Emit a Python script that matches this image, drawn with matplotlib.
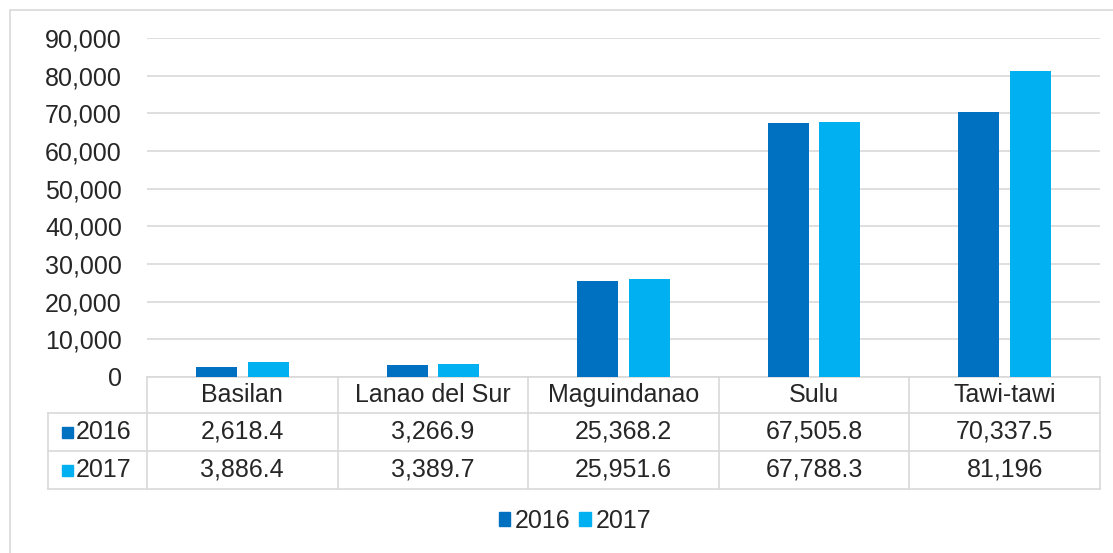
import matplotlib
matplotlib.use("Agg")
from matplotlib import pyplot as plt
from matplotlib.patches import Rectangle
from matplotlib.ticker import FuncFormatter

# data
provinces = ["Basilan", "Lanao del Sur", "Maguindanao", "Sulu", "Tawi-tawi"]
years = ["2016", "2017"]
values_2016 = [2618.4, 3266.9, 25368.2, 67505.8, 70337.5]
values_2017 = [3886.4, 3389.7, 25951.6, 67788.3, 81196]
labels_2016 = ["2,618.4", "3,266.9", "25,368.2", "67,505.8", "70,337.5"]
labels_2017 = ["3,886.4", "3,389.7", "25,951.6", "67,788.3", "81,196"]
yticks = [0, 10000, 20000, 30000, 40000, 50000, 60000, 70000, 80000, 90000]

colors = ["#0070C0", "#00B0F0"]
grid_col = "#d9d9d9"
text_col = "#262626"
fs = 18

plt.rcParams['font.family'] = ['Liberation Sans', 'DejaVu Sans']

W, H = 1113, 553
fig = plt.figure(figsize=(W / 100, H / 100), dpi=100)

# light outer frame
fig.patches.append(Rectangle((10 / W, -0.1), 1.2, 1 - 10 / H + 0.1,
                             transform=fig.transFigure, fill=False,
                             edgecolor="#d9d9d9", linewidth=1.2))

left_px, right_px, top_px, base_px = 147, 1100, 38, 377
ax = fig.add_axes([left_px / W, 1 - base_px / H,
                   (right_px - left_px) / W, (base_px - top_px) / H])

x = list(range(len(provinces)))
bw = 0.215
off = 0.135
ax.bar([i - off for i in x], values_2016, width=bw, color=colors[0], zorder=3)
ax.bar([i + off for i in x], values_2017, width=bw, color=colors[1], zorder=3)

ax.set_xlim(-0.5, len(provinces) - 0.5)
ax.set_ylim(0, 90000)
ax.set_yticks(yticks)
ax.yaxis.set_major_formatter(FuncFormatter(lambda v, p: f"{int(v):,}"))
ax.tick_params(axis="y", length=0, pad=18, labelsize=fs, labelcolor=text_col)
ax.set_xticks([])
ax.grid(axis="y", color=grid_col, linewidth=1.2, zorder=0)
for s in ["top", "right", "left"]:
    ax.spines[s].set_visible(False)
ax.spines["bottom"].set_color(grid_col)
ax.spines["bottom"].set_linewidth(1.2)

# data table underneath the axes
tr = ax.get_xaxis_transform()
axh = base_px - top_px
unit = (right_px - left_px) / len(provinces)
row_px = [377, 413, 451, 489]
row_y = [-(r - base_px) / axh for r in row_px]
x_left = -0.5 - (left_px - 48) / unit

line_kw = dict(transform=tr, color=grid_col, linewidth=1.2, clip_on=False)
for r in row_y[1:]:
    ax.plot([x_left, len(provinces) - 0.5], [r, r], **line_kw)
for xb in [i - 0.5 for i in range(len(provinces) + 1)]:
    ax.plot([xb, xb], [row_y[0], row_y[-1]], **line_kw)
ax.plot([x_left, x_left], [row_y[1], row_y[-1]], **line_kw)

def mid(a, b):
    return (a + b) / 2

for i, name in enumerate(provinces):
    ax.text(i, mid(row_y[0], row_y[1]), name, transform=tr, ha="center",
            va="center", fontsize=fs, color=text_col, clip_on=False)
    ax.text(i, mid(row_y[1], row_y[2]), labels_2016[i], transform=tr,
            ha="center", va="center", fontsize=fs, color=text_col)
    ax.text(i, mid(row_y[2], row_y[3]), labels_2017[i], transform=tr,
            ha="center", va="center", fontsize=fs, color=text_col)

sq = 11
for k, yr in enumerate(years):
    yc = mid(row_y[k + 1], row_y[k + 2])
    ax.add_patch(Rectangle((x_left + 14 / unit, yc - sq / 2 / axh),
                           sq / unit, sq / axh, transform=tr,
                           color=colors[k], clip_on=False))
    ax.text(x_left + 28 / unit, yc, yr, transform=tr, ha="left", va="center",
            fontsize=fs, color=text_col)

# legend at the bottom
handles = [Rectangle((0, 0), 1, 1, color=c) for c in colors]
fig.legend(handles, years, loc="center", bbox_to_anchor=(575 / W, 1 - 521 / H),
           ncol=2, frameon=False, fontsize=fs, handlelength=0.45,
           handleheight=0.45, handletextpad=0.2, columnspacing=0.35,
           labelcolor=text_col)

fig.savefig("out.png", dpi=100)
